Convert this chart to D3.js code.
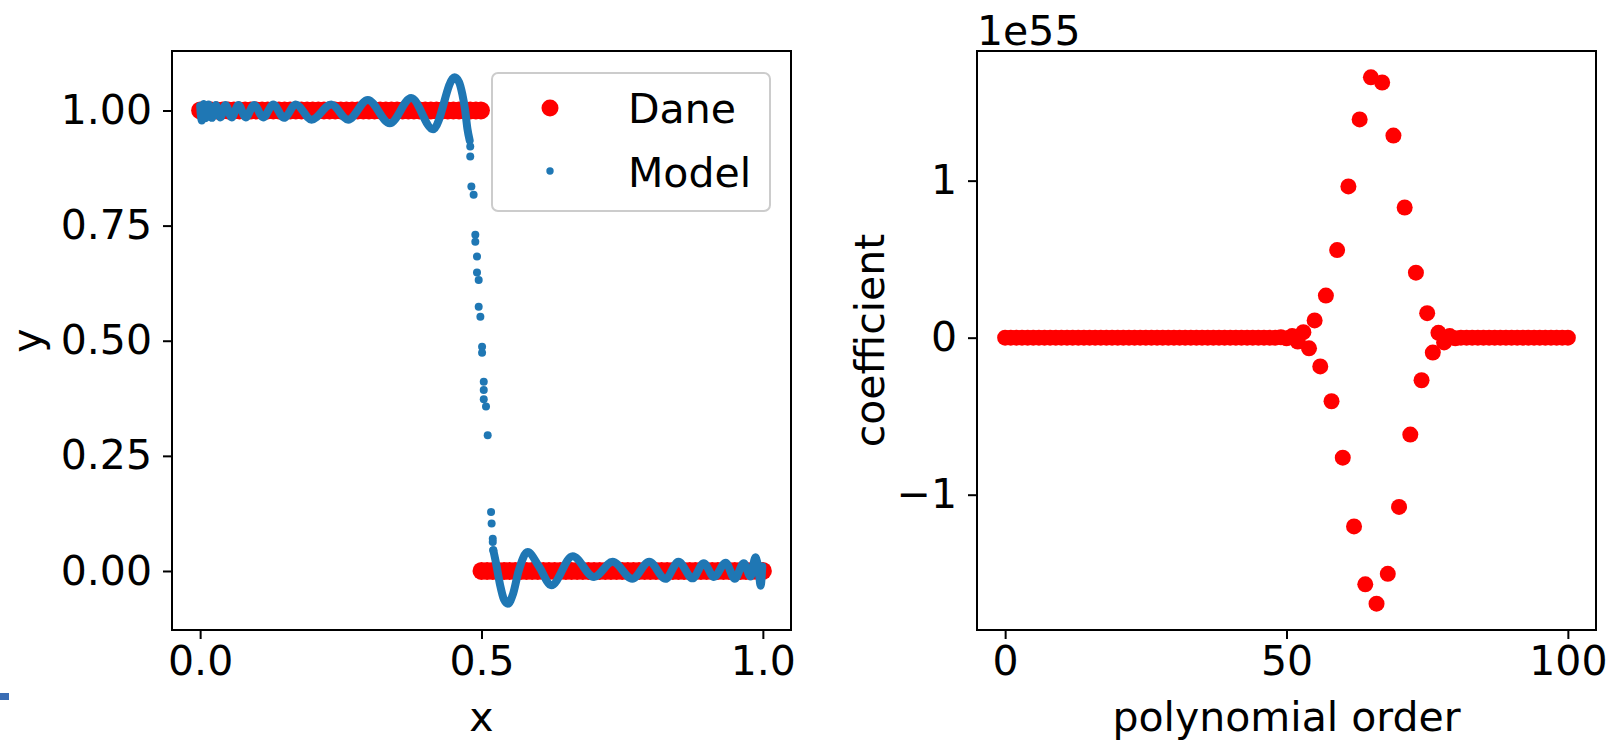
<!DOCTYPE html>
<html><head><meta charset="utf-8">
<script src="https://cdn.jsdelivr.net/npm/d3@7"></script>
<style>body{margin:0;background:#fff}svg{display:block}text{font-family:"DejaVu Sans",sans-serif;fill:#000}</style>
</head><body>
<svg id="c" width="1617" height="742"></svg>
<script>
// ---------- data: left panel ----------
const daneX = [0,0.01,0.02,0.03,0.04,0.05,0.06,0.07,0.08,0.09,0.1,0.11,0.12,0.13,0.14,0.15,0.16,0.17,0.18,0.19,0.2,0.21,0.22,0.23,0.24,0.25,0.26,0.27,0.28,0.29,0.3,0.31,0.32,0.33,0.34,0.35,0.36,0.37,0.38,0.39,0.4,0.41,0.42,0.43,0.44,0.45,0.46,0.47,0.48,0.49,0.499,
  0.5,0.51,0.52,0.53,0.54,0.55,0.56,0.57,0.58,0.59,0.6,0.61,0.62,0.63,0.64,0.65,0.66,0.67,0.68,0.69,0.7,0.71,0.72,0.73,0.74,0.75,0.76,0.77,0.78,0.79,0.8,0.81,0.82,0.83,0.84,0.85,0.86,0.87,0.88,0.89,0.9,0.91,0.92,0.93,0.94,0.95,0.96,0.97,0.98,0.99,1.0];
const daneY = [1,1,1,1,1,1,1,1,1,1,1,1,1,1,1,1,1,1,1,1,1,1,1,1,1,1,1,1,1,1,1,1,1,1,1,1,1,1,1,1,1,1,1,1,1,1,1,1,1,1,1,
  0,0,0,0,0,0,0,0,0,0,0,0,0,0,0,0,0,0,0,0,0,0,0,0,0,0,0,0,0,0,0,0,0,0,0,0,0,0,0,0,0,0,0,0,0,0,0,0,0,0,0];

// Model: dense part left of the step
const modelLeftX = [0.000,0.003,0.006,0.010,0.015,0.021,0.028,0.036,0.045,0.056,0.068,0.081,0.096,0.112,0.130,0.149,0.170,0.198,0.233,0.263,0.298,0.337,0.375,0.414,0.452,0.460,0.466,0.471,0.475,0.479];
const modelLeftY = [1.010,0.978,1.014,0.983,1.013,0.984,1.012,0.985,1.012,0.985,1.012,0.985,1.012,0.985,1.013,0.984,1.013,0.980,1.013,0.980,1.023,0.972,1.027,0.959,1.072,1.062,1.035,1.000,0.960,0.935];
// Model: sparse points along the step
const modelStepX = [0.480,0.480,0.482,0.486,0.489,0.489,0.492,0.492,0.495,0.495,0.498,0.501,0.501,0.504,0.504,0.504,0.508,0.511,0.517,0.518,0.520,0.520,0.521];
const modelStepY = [0.922,0.900,0.835,0.817,0.730,0.715,0.683,0.648,0.632,0.574,0.552,0.487,0.474,0.411,0.393,0.373,0.357,0.295,0.128,0.103,0.070,0.063,0.045];
// Model: dense part right of the step
const modelRightX = [0.521,0.526,0.533,0.540,0.547,0.556,0.566,0.582,0.602,0.624,0.662,0.700,0.733,0.768,0.798,0.827,0.850,0.875,0.895,0.913,0.934,0.950,0.966,0.978,0.987,0.993,0.996,0.999];
const modelRightY = [0.045,0.016,-0.030,-0.062,-0.071,-0.050,0.000,0.041,0.010,-0.031,0.032,-0.013,0.020,-0.017,0.020,-0.017,0.020,-0.016,0.017,-0.013,0.018,-0.017,0.017,-0.012,0.030,-0.005,-0.032,0.010];

const leftXTicks = [0.0,0.5,1.0];
const leftYTicks = [0.00,0.25,0.50,0.75,1.00];

// ---------- data: right panel (coefficients in units of 1e55) ----------
const polyOrder = [0,1,2,3,4,5,6,7,8,9,10,11,12,13,14,15,16,17,18,19,20,21,22,23,24,25,26,27,28,29,30,31,32,33,34,35,36,37,38,39,40,41,42,43,44,45,46,47,48,49,50,51,52,53,54,55,56,57,58,59,60,61,62,63,64,65,66,67,68,69,70,71,72,73,74,75,76,77,78,79,80,81,82,83,84,85,86,87,88,89,90,91,92,93,94,95,96,97,98,99,100];
const coefficient = [0,0,0,0,0,0,0,0,0,0,0,0,0,0,0,0,0,0,0,0,0,0,0,0,0,0,0,0,0,0,0,0,0,0,0,0,0,0,0,0,0,0,0,0,0,0,0,0,0,
  0.002,-0.004,0.010,-0.025,0.035,-0.068,0.110,-0.183,0.268,-0.405,0.558,-0.764,0.963,-1.202,1.390,-1.571,1.658,-1.694,1.625,-1.504,1.287,-1.078,0.829,-0.617,0.414,-0.271,0.156,-0.095,0.031,-0.030,0.010,-0.004,
  0,0,0,0,0,0,0,0,0,0,0,0,0,0,0,0,0,0,0,0];
const rightXTicks = [0,50,100];
const rightYTicks = [-1,0,1];
const offsetLabel = "1e55";

// ---------- drawing ----------
const RED = "#ff0000", BLUE = "#1f77b4", FS = 41;
const svg = d3.select("#c");
svg.append("rect").attr("x",0).attr("y",693).attr("width",9).attr("height",7).attr("fill","#3a6db4");

function pad(ext){const r=ext[1]-ext[0];return [ext[0]-0.05*r, ext[1]+0.05*r];}

const L = {x0:172,x1:791,y0:51,y1:630};
const R = {x0:977,x1:1596,y0:51,y1:630};

const lx = d3.scaleLinear().domain(pad([0,1])).range([L.x0,L.x1]);
const allY = daneY.concat(modelLeftY, modelStepY, modelRightY);
const ly = d3.scaleLinear().domain(pad(d3.extent(allY))).range([L.y1,L.y0]);

const rx = d3.scaleLinear().domain(pad(d3.extent(polyOrder))).range([R.x0,R.x1]);
const ry = d3.scaleLinear().domain(pad(d3.extent(coefficient))).range([R.y1,R.y0]);

function styleAxis(g){
  g.select(".domain").remove();
  g.selectAll(".tick line").attr("stroke","#000").attr("stroke-width",2);
  g.selectAll(".tick text").style("font-size",FS+"px").style("font-family","DejaVu Sans").attr("fill","#000");
}

// ---- left panel ----
const gl = svg.append("g");
gl.selectAll("circle.dane").data(daneX.map((x,i)=>({x,y:daneY[i]}))).join("circle")
  .attr("cx",d=>lx(d.x)).attr("cy",d=>ly(d.y)).attr("r",9).attr("fill",RED);
const line = d3.line().x(d=>lx(d.x)).y(d=>ly(d.y)).curve(d3.curveMonotoneX);
[[modelLeftX,modelLeftY],[modelRightX,modelRightY]].forEach(([xs,ys])=>{
  gl.append("path").attr("d",line(xs.map((x,i)=>({x,y:ys[i]}))))
    .attr("fill","none").attr("stroke",BLUE).attr("stroke-width",8)
    .attr("stroke-linecap","round").attr("stroke-linejoin","round");
});
gl.selectAll("circle.model").data(modelStepX.map((x,i)=>({x,y:modelStepY[i]}))).join("circle")
  .attr("class","model").attr("cx",d=>lx(d.x)).attr("cy",d=>ly(d.y)).attr("r",4).attr("fill",BLUE);

gl.append("g").attr("transform",`translate(0,${L.y1})`)
  .call(d3.axisBottom(lx).tickValues(leftXTicks).tickFormat(d3.format(".1f")).tickSize(9).tickPadding(7)).call(styleAxis);
gl.append("g").attr("transform",`translate(${L.x0},0)`)
  .call(d3.axisLeft(ly).tickValues(leftYTicks).tickFormat(d3.format(".2f")).tickSize(9).tickPadding(11)).call(styleAxis);
gl.append("rect").attr("x",L.x0).attr("y",L.y0).attr("width",L.x1-L.x0).attr("height",L.y1-L.y0)
  .attr("fill","none").attr("stroke","#000").attr("stroke-width",2);
gl.append("text").attr("x",(L.x0+L.x1)/2).attr("y",731).attr("text-anchor","middle").style("font-size",FS+"px").text("x");
gl.append("text").attr("transform",`translate(40.5,${(L.y0+L.y1)/2}) rotate(-90)`).attr("text-anchor","middle").style("font-size",FS+"px").text("y");

// legend
const lg = gl.append("g");
lg.append("rect").attr("x",492).attr("y",73).attr("width",278).attr("height",138).attr("rx",6)
  .attr("fill","#fff").attr("fill-opacity",0.8).attr("stroke","#cccccc").attr("stroke-width",2);
lg.append("circle").attr("cx",550).attr("cy",108).attr("r",8.5).attr("fill",RED);
lg.append("circle").attr("cx",550).attr("cy",171).attr("r",3.7).attr("fill",BLUE);
lg.append("text").attr("x",628).attr("y",123).style("font-size",FS+"px").text("Dane");
lg.append("text").attr("x",628).attr("y",186.5).style("font-size",FS+"px").text("Model");

// ---- right panel ----
const gr = svg.append("g");
gr.selectAll("circle.coef").data(polyOrder.map((o,i)=>({o,c:coefficient[i]}))).join("circle")
  .attr("cx",d=>rx(d.o)).attr("cy",d=>ry(d.c)).attr("r",8).attr("fill",RED);
gr.append("g").attr("transform",`translate(0,${R.y1})`)
  .call(d3.axisBottom(rx).tickValues(rightXTicks).tickFormat(d3.format("d")).tickSize(9).tickPadding(7)).call(styleAxis);
gr.append("g").attr("transform",`translate(${R.x0},0)`)
  .call(d3.axisLeft(ry).tickValues(rightYTicks).tickFormat(d3.format("d")).tickSize(9).tickPadding(11)).call(styleAxis);
gr.append("rect").attr("x",R.x0).attr("y",R.y0).attr("width",R.x1-R.x0).attr("height",R.y1-R.y0)
  .attr("fill","none").attr("stroke","#000").attr("stroke-width",2);
gr.append("text").attr("x",R.x0).attr("y",45).style("font-size",FS+"px").text(offsetLabel);
gr.append("text").attr("x",(R.x0+R.x1)/2).attr("y",731).attr("text-anchor","middle").style("font-size",FS+"px").text("polynomial order");
gr.append("text").attr("transform",`translate(884,${(R.y0+R.y1)/2}) rotate(-90)`).attr("text-anchor","middle").style("font-size",FS+"px").text("coefficient");
</script>
</body></html>
